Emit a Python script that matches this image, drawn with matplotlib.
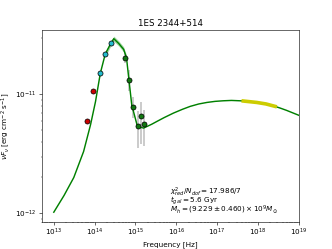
import matplotlib
matplotlib.use("Agg")
import matplotlib.pyplot as plt
import numpy as np

# model curve
model_nu = [1e13, 1.78e13, 3.09e13, 5.37e13, 7.94e13, 1.05e14, 1.38e14,
            1.82e14, 2.4e14, 2.95e14, 3.89e14, 5.13e14, 6.03e14, 6.92e14,
            8.13e14, 1.1e15, 1.32e15, 1.58e15, 2.51e15, 3.35e15, 5.01e15,
            8.5e15, 1.41e16, 2.19e16, 3.55e16, 5.62e16, 8.91e16, 1.41e17,
            2.24e17, 3.63e17, 5.89e17, 9.33e17, 1.48e18, 2.34e18, 3.55e18,
            5.01e18, 1.0e19]
model_flux = [1.02e-12, 1.41e-12, 2.0e-12, 3.31e-12, 5.56e-12, 8.7e-12,
              1.51e-11, 2.19e-11, 2.63e-11, 2.95e-11, 2.69e-11, 2.4e-11,
              2.04e-11, 1.33e-11, 8.13e-12, 5.5e-12, 5.31e-12, 5.21e-12,
              5.62e-12, 5.93e-12, 6.38e-12, 6.97e-12, 7.5e-12, 7.94e-12,
              8.32e-12, 8.57e-12, 8.75e-12, 8.85e-12, 8.91e-12, 8.85e-12,
              8.75e-12, 8.57e-12, 8.32e-12, 8.04e-12, 7.67e-12, 7.35e-12,
              6.68e-12]

# uncertainty band of the model near the peak
band_nu = [1.82e14, 2.4e14, 2.95e14, 3.89e14, 5.13e14, 6.03e14]
band_lo = [2.08e-11, 2.5e-11, 2.8e-11, 2.56e-11, 2.28e-11, 1.94e-11]
band_hi = [2.3e-11, 2.76e-11, 3.1e-11, 2.83e-11, 2.52e-11, 2.14e-11]

# x-ray model segment
xray_nu = [4.37e17, 9.33e17, 1.58e18, 2.63e18]
xray_flux = [8.81e-12, 8.57e-12, 8.32e-12, 7.94e-12]

# photometric data
red_nu = [6.6e13, 8.9e13]
red_flux = [5.93e-12, 1.074e-11]

cyan_nu = [1.38e14, 1.82e14, 2.45e14]
cyan_flux = [1.51e-11, 2.2e-11, 2.7e-11]

green_nu = [5.6e14, 6.9e14, 8.7e14, 1.15e15, 1.35e15, 1.58e15]
green_flux = [2.04e-11, 1.33e-11, 7.78e-12, 5.46e-12, 6.53e-12, 5.64e-12]
green_lo = [1.85e-11, 1.07e-11, 6.3e-12, 3.55e-12, 3.8e-12, 3.66e-12]
green_hi = [2.25e-11, 1.62e-11, 9.6e-12, 7.2e-12, 8.7e-12, 7.4e-12]

fig, ax = plt.subplots(figsize=(6.4, 4.8), dpi=332 / 6.4)

yerr = [np.array(green_flux) - np.array(green_lo),
        np.array(green_hi) - np.array(green_flux)]
ax.errorbar(green_nu, green_flux, yerr=yerr, fmt="none", ecolor="0.78",
            elinewidth=2.5, zorder=1)

ax.fill_between(band_nu, band_lo, band_hi, color="#66bb66", alpha=0.6,
                lw=0, zorder=2)
ax.plot(model_nu, model_flux, color="green", lw=2, zorder=3)
ax.plot(xray_nu, xray_flux, color="#cccc00", lw=5, zorder=4)

ax.plot(red_nu, red_flux, "o", color="#cc0000", mec="black", ms=7, zorder=5)
ax.plot(cyan_nu, cyan_flux, "o", color="#22bbcc", mec="black", ms=7, zorder=5)
ax.plot(green_nu, green_flux, "o", color="#117711", mec="black", ms=7, zorder=5)

ax.set_xscale("log")
ax.set_yscale("log")
ax.set_xlim(5e12, 1e19)
ax.set_ylim(8.5e-13, 3.5e-11)
ax.set_xticks([1e13, 1e14, 1e15, 1e16, 1e17, 1e18, 1e19])

ax.set_title("1ES 2344+514")
ax.set_xlabel("Frequency [Hz]")
ax.set_ylabel(r"$\nu F_\nu$ [erg cm$^{-2}$ s$^{-1}$]")

info = [r"$\chi^2_{red}/N_{dof} = 17.986/7$",
        r"$t_{gal} = 5.6$ Gyr",
        r"$M_h = (9.229 \pm 0.460) \times 10^9 M_{\odot}$"]
for line, ypos in zip(info, [0.155, 0.108, 0.061]):
    ax.text(0.5, ypos, line, transform=ax.transAxes, ha="left", va="center")

fig.savefig("out.png", dpi=332 / 6.4)
